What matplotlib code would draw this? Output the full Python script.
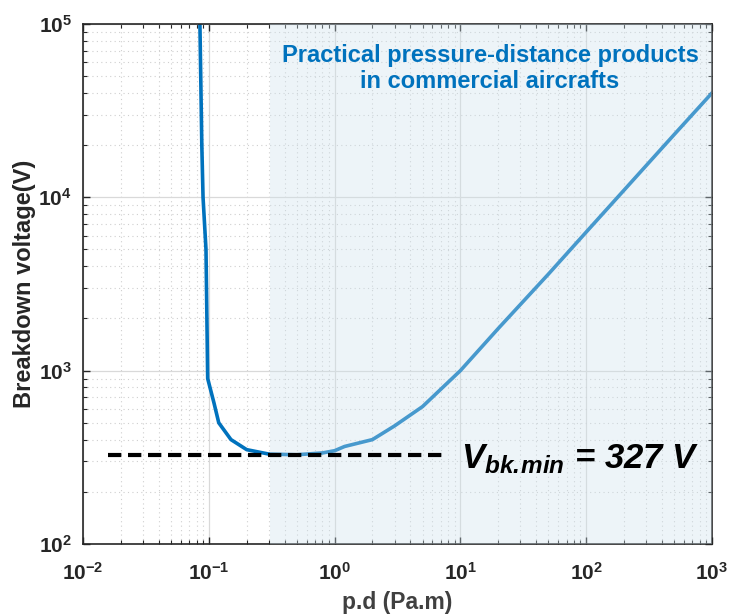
import matplotlib
matplotlib.use('Agg')
import matplotlib.pyplot as plt
import numpy as np

plt.rcParams['font.family'] = ['Liberation Sans', 'DejaVu Sans']
plt.rcParams['mathtext.default'] = 'regular'

# Paschen curve
pd_vals = [0.085, 0.088, 0.09, 0.095, 0.098, 0.11, 0.12, 0.15, 0.2, 0.3, 0.5,
           0.8, 1.0, 1.2, 2.0, 3.0, 5.0, 10, 20, 50, 100, 200, 500, 1000]
vbk_vals = [1e5, 2e4, 1e4, 5000, 900, 650, 500, 400, 350, 330, 327,
            335, 345, 365, 400, 480, 620, 1000, 1750, 3600, 6300, 11000, 23000, 40000]

vbk_min = 327
dash_x = [0.0158, 7.5]
span_x = [0.305, 1000]

fig = plt.figure(figsize=(7.3, 6.16), dpi=100)
ax = fig.add_axes([0.1137, 0.117, 0.8616, 0.844])

ax.plot(pd_vals, vbk_vals, color='#0072BD', lw=2.6, zorder=2)
ax.axvspan(span_x[0], span_x[1], color='#cee2ed', alpha=0.35, lw=0, zorder=3)
ax.plot(dash_x, [vbk_min, vbk_min], color='black', lw=3, ls=(0, (3.2, 1.6)), zorder=4)

ax.set_xscale('log')
ax.set_yscale('log')
ax.set_xlim(1e-2, 1e3)
ax.set_ylim(1e2, 1e5)

ax.grid(True, which='major', color='#d9d9d9', lw=0.9, zorder=0)
ax.grid(True, which='minor', color='#cfcfcf', lw=0.8, ls=(0, (1, 3)), zorder=0)
ax.set_axisbelow(True)

ax.tick_params(which='both', direction='in', top=True, right=True, colors='#262626')
ax.tick_params(which='major', length=5, width=1, labelsize=15)
ax.tick_params(axis='x', which='major', pad=13)
ax.tick_params(axis='y', which='major', pad=8)
ax.tick_params(which='minor', length=3, width=0.8)
for lab in ax.get_xticklabels() + ax.get_yticklabels():
    lab.set_fontweight('bold')
for s in ax.spines.values():
    s.set_color('#262626')
    s.set_linewidth(1.2)

ax.set_xlabel('p.d (Pa.m)', fontsize=16.5, fontweight='bold', color='#404040', labelpad=5)
ax.set_ylabel('Breakdown voltage(V)', fontsize=17, fontweight='bold', color='#262626', labelpad=2)

ax.text(0.647, 0.915, 'Practical pressure-distance products\nin commercial aircrafts',
        transform=ax.transAxes, ha='center', va='center', fontsize=17,
        fontweight='bold', color='#0072BD', linespacing=1.15, zorder=5)
ax.text(0.601, 0.163, r'$V_{bk.\!min}$ = 327 V', transform=ax.transAxes,
        ha='left', va='center', fontsize=25, fontweight='bold', style='italic',
        color='black', zorder=5)

fig.savefig('out.png', dpi=100)
